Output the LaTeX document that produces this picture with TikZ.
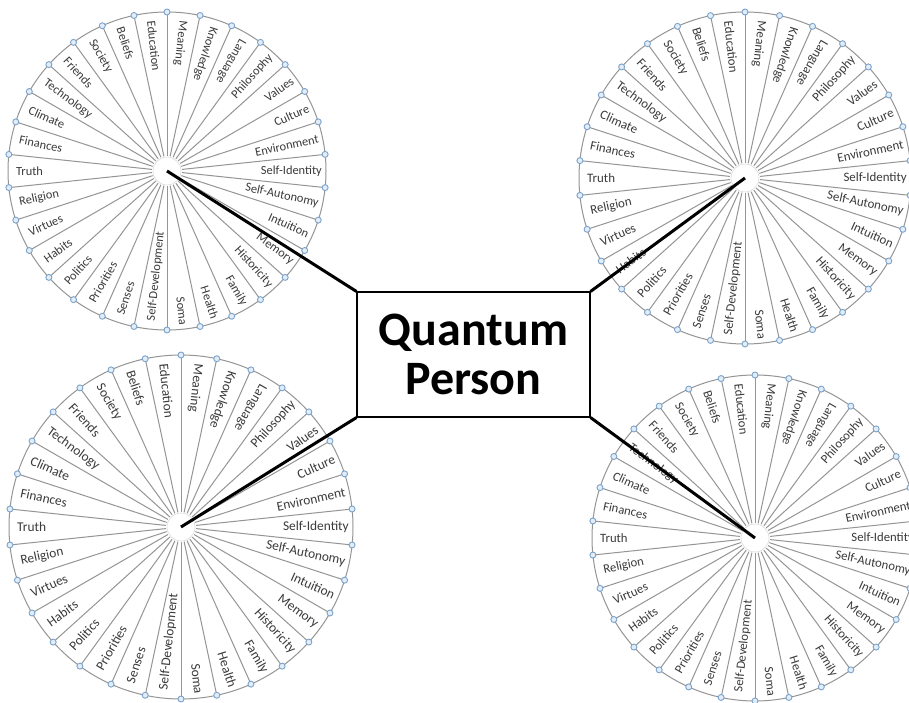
\documentclass[tikz,border=0pt]{standalone}
\usepackage{fontspec}
\setmainfont{Carlito}
\definecolor{spoke}{HTML}{959595}
\definecolor{dotc}{HTML}{7BA3CC}
\definecolor{dotf}{HTML}{E3EDF7}
\definecolor{lab}{HTML}{3A3A3A}
\tikzset{
 spokeline/.style={draw=spoke, line width=1pt},
 rimdot/.style={circle, draw=dotc, fill=dotf, line width=0.9pt, inner sep=0pt, minimum size=6pt},
 wlabel/.style={inner sep=0pt, text=lab},
 conn/.style={line width=3pt, draw=black},
 qbox/.style={draw=black, line width=1.1pt, fill=white, minimum width=233pt, minimum height=125pt, align=center, font=\bfseries\fontsize{48}{49}\selectfont, inner sep=0pt},
}
\newcommand{\mywheel}[5]{% name, x, y, r, fontsize
 \coordinate (#1) at (#2,#3);
 \foreach \k in {0,...,29} {
  \draw[spokeline] (#1) -- ++(90-12*\k:#4);
 }
 \draw[spokeline] (#1) circle[radius=#4];
 \fill[white] (#1) circle[radius=15];
 \draw[spoke!35, line width=0.6pt] (#1) circle[radius=14];
 \foreach \k in {0,...,29} {
  \path (#1) ++(90-12*\k:#4) node[rimdot] (#1-d\k) {};
 }
 \foreach \t [count=\i from 0] in {Meaning,Knowledge,Language,Philosophy,Values,Culture,Environment,Self-Identity,Self-Autonomy,Intuition,Memory,Historicity,Family,Health,Soma,Self-Development,Senses,Priorities,Politics,Habits,Virtues,Religion,Truth,Finances,Climate,Technology,Friends,Society,Beliefs,Education} {
  \pgfmathsetmacro\ang{84-12*\i}
  \pgfmathsetmacro\ri{#4-8}
  \pgfmathsetmacro\ro{#4-4}
  \ifnum\i<3
   \pgfmathsetmacro\rot{\ang+180}
   \path (#1) ++(\ang:\ri) node[wlabel, font=\fontsize{#5}{#5}\selectfont, rotate=\rot, anchor=west] (#1-l\i) {\t};
  \else\ifnum\i>14
   \pgfmathsetmacro\rot{\ang+180}
   \path (#1) ++(\ang:\ri) node[wlabel, font=\fontsize{#5}{#5}\selectfont, rotate=\rot, anchor=west] (#1-l\i) {\t};
  \else
   \path (#1) ++(\ang:\ro) node[wlabel, font=\fontsize{#5}{#5}\selectfont, rotate=\ang, anchor=east] (#1-l\i) {\t};
  \fi\fi
 }
}
\begin{document}
\begin{tikzpicture}[x=1pt,y=1pt]
\useasboundingbox (0,0) rectangle (909,702);
\clip (0,0) rectangle (909,702);
\fill[white] (0,0) rectangle (909,702);
\mywheel{TL}{167}{531}{159}{12.4}
\mywheel{TR}{745}{524}{166}{12.9}
\mywheel{BL}{181}{175}{172}{13.4}
\mywheel{BR}{755}{164}{163}{12.7}
\node[qbox] (qp) at (473.5,347.5) {Quantum\\Person};
\draw[conn] (TL) -- (qp.north west);
\draw[conn] (TR) -- (qp.north east);
\draw[conn] (BL) -- (qp.south west);
\draw[conn] (BR) -- (qp.south east);
\end{tikzpicture}
\end{document}
